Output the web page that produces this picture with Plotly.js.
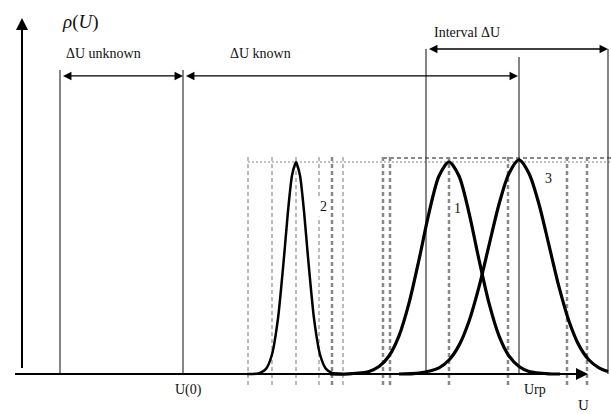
<!DOCTYPE html>
<html><head><meta charset="utf-8">
<script src="https://cdn.plot.ly/plotly-3.0.1.min.js"></script>
<style>html,body{margin:0;padding:0;background:#fff}#chart{width:611px;height:414px}</style>
</head><body><div id="chart"></div>
<script>
// Curve 2 (narrow), curve 1, curve 3: U values and normalised density rho(U)
const curve2U   = [247, 256, 260, 266, 272, 278, 284, 288, 292, 296, 300, 304, 308, 314, 320, 326, 332, 342];
const curve2Rho = [0, 0.001, 0.005, 0.024, 0.092, 0.262, 0.551, 0.768, 0.936, 1, 0.936, 0.768, 0.551, 0.262, 0.092, 0.024, 0.005, 0];
const curve1U   = [330, 349, 369, 379, 389, 399, 409, 419, 429, 439, 449, 459, 469, 479, 489, 499, 509, 519, 529, 549, 560];
const curve1Rho = [0, 0.001, 0.012, 0.035, 0.085, 0.18, 0.334, 0.539, 0.76, 0.934, 1, 0.934, 0.76, 0.539, 0.334, 0.18, 0.085, 0.035, 0.012, 0.001, 0];
const curve3U   = [399, 419, 439, 449, 459, 469, 479, 489, 499, 509, 519, 529, 539, 549, 559, 569, 579, 589, 599, 608];
const curve3Rho = [0, 0.004, 0.029, 0.066, 0.135, 0.249, 0.411, 0.607, 0.801, 0.946, 1.01, 0.946, 0.801, 0.607, 0.411, 0.249, 0.135, 0.066, 0.029, 0.012];

// Solid vertical markers (U position, top rho)
const solidU   = [60, 183, 426, 519, 608];
const solidTop = [1.434, 1.434, 1.533, 1.495, 1.533];

// Dashed helper verticals
const thinDashU  = [248, 272, 296, 319, 343];
const thickDashU = [332, 383, 390, 449, 508, 567, 587];
const dashTop = 1.033, dashBottom = -0.052;

// Horizontal dotted levels: [start U, end U, rho]
const levelThin  = [248, 611, 1.0];
const levelThick = [383, 611, 1.019];

// Double arrows: [fromU, toU, rho]
const arrowUnknown  = [60, 183, 1.406];
const arrowKnown    = [183, 518, 1.406];
const arrowInterval = [426, 608, 1.533];

// Text labels
const labelText = ['<i>ρ</i>(<i>U</i>)', 'ΔU unknown', 'ΔU known', 'Interval ΔU', '2', '1', '3', 'U(0)', 'Urp', 'U'];
const labelU    = [80, 103, 260, 467, 323, 457, 548, 188, 535, 583];
const labelRho  = [1.66, 1.514, 1.514, 1.613, 0.788, 0.783, 0.92, -0.075, -0.075, -0.145];
const labelSize = [19, 14, 14, 14, 14, 14, 14, 14, 14, 15];

function vlines(xs, y0, y1arr) {
  const x = [], y = [];
  xs.forEach((u, i) => {
    const top = Array.isArray(y1arr) ? y1arr[i] : y1arr;
    x.push(u, u, null); y.push(y0, top, null);
  });
  return {x, y};
}

const traces = [];
const thin = vlines(thinDashU, dashBottom, dashTop);
traces.push({x: thin.x, y: thin.y, mode: 'lines', line: {color: '#777', width: 1, dash: '4px,3px'}, hoverinfo: 'skip'});
const thick = vlines(thickDashU, dashBottom, dashTop);
traces.push({x: thick.x, y: thick.y, mode: 'lines', line: {color: '#888', width: 2.5, dash: '4px,3px'}, hoverinfo: 'skip'});
traces.push({x: [levelThin[0], levelThin[1]], y: [levelThin[2], levelThin[2]], mode: 'lines', line: {color: '#888', width: 1.2, dash: '2px,2px'}, hoverinfo: 'skip'});
traces.push({x: [levelThick[0], levelThick[1]], y: [levelThick[2], levelThick[2]], mode: 'lines', line: {color: '#888', width: 2, dash: '4px,3px'}, hoverinfo: 'skip'});
const solid = vlines(solidU, 0, solidTop);
traces.push({x: solid.x, y: solid.y, mode: 'lines', line: {color: '#333', width: 1.2}, hoverinfo: 'skip'});
traces.push({x: curve2U, y: curve2Rho, mode: 'lines', line: {color: '#000', width: 2.5, shape: 'spline', smoothing: 0.6}});
traces.push({x: curve1U, y: curve1Rho, mode: 'lines', line: {color: '#000', width: 3.2, shape: 'spline', smoothing: 0.8}});
traces.push({x: curve3U, y: curve3Rho, mode: 'lines', line: {color: '#000', width: 3.2, shape: 'spline', smoothing: 0.8}});

const annotations = [];
function dbl(a) {
  annotations.push({x: a[1], y: a[2], ax: a[0], ay: a[2], xref: 'x', yref: 'y', axref: 'x', ayref: 'y',
    showarrow: true, arrowside: 'end+start', arrowhead: 2, arrowsize: 1.3, arrowwidth: 1.3, arrowcolor: '#000', standoff: 0, startstandoff: 0});
}
dbl(arrowUnknown); dbl(arrowKnown); dbl(arrowInterval);
// axes arrows
annotations.push({x: 22, y: 1.679, ax: 22, ay: -0.019, xref: 'x', yref: 'y', axref: 'x', ayref: 'y',
  showarrow: true, arrowhead: 2, arrowsize: 1.2, arrowwidth: 2, arrowcolor: '#000'});
annotations.push({x: 588, y: 0, ax: 12, ay: 0, xref: 'x', yref: 'y', axref: 'x', ayref: 'y',
  showarrow: true, arrowhead: 2, arrowsize: 1.2, arrowwidth: 2, arrowcolor: '#000'});
labelText.forEach((t, i) => {
  annotations.push({x: labelU[i], y: labelRho[i], xref: 'x', yref: 'y', text: t, showarrow: false,
    font: {family: '"Liberation Serif", "Times New Roman", serif', size: labelSize[i], color: '#111'},
    bgcolor: (t === '1' || t === '2') ? '#fff' : 'rgba(0,0,0,0)', borderpad: 2});
});

const layout = {
  width: 611, height: 414,
  margin: {l: 0, r: 0, t: 0, b: 0},
  paper_bgcolor: '#fff', plot_bgcolor: '#fff',
  showlegend: false,
  xaxis: {range: [0, 611], visible: false, fixedrange: true},
  yaxis: {range: [-0.1887, 1.7642], visible: false, fixedrange: true},
  annotations: annotations
};
Plotly.newPlot('chart', traces, layout, {staticPlot: true});
</script>
</body></html>
